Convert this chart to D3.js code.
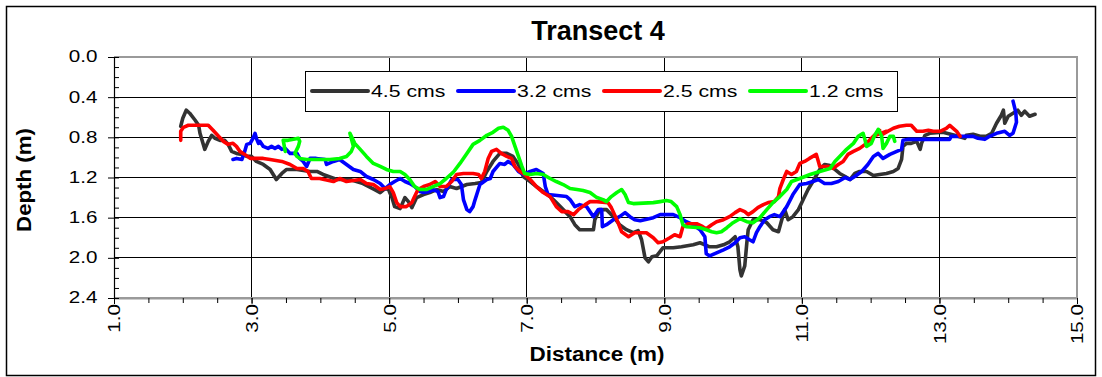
<!DOCTYPE html>
<html><head><meta charset="utf-8">
<script src="https://cdn.jsdelivr.net/npm/d3@7"></script>
<style>
html,body{margin:0;padding:0;background:#fff;}
svg{display:block;font-family:"Liberation Sans",Arial,sans-serif;}
</style></head>
<body><svg id="c" width="1102" height="377"></svg>
<script>
const title = "Transect 4";
const xLabel = "Distance (m)";
const yLabel = "Depth (m)";
const xTicks = [1, 3, 5, 7, 9, 11, 13, 15];
const yTicks = [0, 0.4, 0.8, 1.2, 1.6, 2.0, 2.4];
const seriesNames = ["4.5 cms", "3.2 cms", "2.5 cms", "1.2 cms"];
const seriesColors = ["#333333", "#0000ff", "#ff0000", "#00ff00"];

const s45 = [[1.97,0.69],[2.00,0.61],[2.05,0.53],[2.10,0.56],[2.18,0.63],[2.23,0.68],[2.25,0.76],[2.32,0.92],[2.37,0.84],[2.42,0.78],[2.47,0.81],[2.54,0.83],[2.61,0.83],[2.66,0.87],[2.71,0.94],[2.78,0.96],[2.86,0.97],[2.93,0.99],[3.00,0.99],[3.07,1.04],[3.17,1.07],[3.27,1.12],[3.36,1.22],[3.44,1.16],[3.51,1.12],[3.66,1.12],[3.85,1.14],[3.95,1.14],[4.04,1.17],[4.24,1.22],[4.43,1.22],[4.62,1.26],[4.79,1.32],[4.87,1.35],[4.94,1.31],[4.99,1.32],[5.04,1.40],[5.08,1.49],[5.16,1.51],[5.23,1.40],[5.28,1.44],[5.33,1.50],[5.40,1.40],[5.50,1.37],[5.59,1.35],[5.69,1.32],[5.79,1.34],[5.88,1.29],[5.98,1.31],[6.13,1.27],[6.25,1.26],[6.34,1.25],[6.42,1.14],[6.51,1.04],[6.61,0.96],[6.71,0.96],[6.80,0.99],[6.88,1.07],[6.95,1.19],[7.05,1.24],[7.14,1.29],[7.24,1.34],[7.34,1.39],[7.43,1.45],[7.53,1.52],[7.63,1.59],[7.70,1.67],[7.77,1.72],[7.97,1.72],[7.99,1.62],[8.06,1.52],[8.16,1.52],[8.26,1.59],[8.35,1.67],[8.45,1.72],[8.55,1.75],[8.62,1.73],[8.67,1.82],[8.72,2.00],[8.77,2.04],[8.82,1.99],[8.89,1.98],[8.98,1.90],[9.13,1.90],[9.25,1.89],[9.42,1.87],[9.52,1.85],[9.66,1.89],[9.76,1.89],[9.86,1.87],[9.95,1.84],[10.03,1.79],[10.07,1.89],[10.10,2.12],[10.12,2.18],[10.17,2.08],[10.20,1.85],[10.22,1.72],[10.29,1.62],[10.39,1.62],[10.49,1.65],[10.58,1.72],[10.66,1.74],[10.70,1.64],[10.75,1.52],[10.80,1.62],[10.87,1.59],[10.95,1.52],[11.02,1.42],[11.09,1.32],[11.16,1.24],[11.26,1.12],[11.33,1.07],[11.41,1.08],[11.48,1.12],[11.55,1.16],[11.63,1.19],[11.70,1.22],[11.77,1.16],[11.84,1.14],[11.94,1.14],[12.04,1.18],[12.13,1.17],[12.23,1.16],[12.33,1.14],[12.40,1.11],[12.45,1.02],[12.47,0.89],[12.52,0.86],[12.59,0.86],[12.67,0.84],[12.72,0.92],[12.74,0.86],[12.79,0.78],[12.86,0.76],[13.05,0.75],[13.22,0.78],[13.37,0.81],[13.39,0.78],[13.49,0.77],[13.59,0.79],[13.68,0.79],[13.76,0.76],[13.83,0.66],[13.90,0.58],[13.93,0.53],[13.95,0.66],[14.00,0.59],[14.07,0.56],[14.14,0.53],[14.19,0.58],[14.24,0.54],[14.31,0.59],[14.39,0.57]];

const s32 = [[2.73,1.02],[2.78,1.01],[2.86,1.02],[2.90,0.94],[2.93,0.87],[2.98,0.86],[3.02,0.81],[3.05,0.76],[3.07,0.81],[3.10,0.86],[3.12,0.84],[3.17,0.89],[3.24,0.91],[3.29,0.89],[3.34,0.91],[3.39,0.89],[3.44,0.92],[3.49,0.91],[3.56,0.96],[3.66,0.96],[3.70,1.01],[3.75,1.04],[3.80,1.09],[3.85,1.01],[3.94,1.01],[4.07,1.02],[4.09,1.07],[4.19,1.04],[4.28,1.02],[4.38,1.07],[4.48,1.12],[4.58,1.14],[4.67,1.19],[4.77,1.22],[4.87,1.26],[4.94,1.31],[5.01,1.27],[5.08,1.24],[5.16,1.21],[5.23,1.24],[5.30,1.26],[5.37,1.29],[5.45,1.34],[5.50,1.35],[5.59,1.34],[5.64,1.32],[5.71,1.34],[5.74,1.40],[5.79,1.39],[5.83,1.32],[5.91,1.22],[6.00,1.22],[6.05,1.27],[6.08,1.42],[6.13,1.52],[6.17,1.54],[6.22,1.49],[6.25,1.42],[6.32,1.27],[6.42,1.22],[6.47,1.21],[6.51,1.14],[6.61,1.06],[6.68,1.07],[6.73,1.04],[6.80,1.07],[6.88,1.14],[6.95,1.17],[7.05,1.14],[7.14,1.12],[7.24,1.16],[7.27,1.29],[7.31,1.37],[7.58,1.39],[7.63,1.42],[7.70,1.49],[7.77,1.47],[7.87,1.49],[7.97,1.59],[8.04,1.52],[8.09,1.52],[8.10,1.69],[8.16,1.67],[8.26,1.62],[8.35,1.59],[8.43,1.55],[8.50,1.59],[8.57,1.62],[8.65,1.63],[8.84,1.60],[8.94,1.57],[9.13,1.57],[9.23,1.60],[9.32,1.64],[9.42,1.67],[9.52,1.72],[9.59,1.79],[9.61,1.96],[9.66,1.98],[9.76,1.95],[9.86,1.92],[9.95,1.89],[10.03,1.85],[10.10,1.80],[10.17,1.79],[10.24,1.82],[10.29,1.84],[10.34,1.75],[10.39,1.69],[10.46,1.62],[10.53,1.59],[10.60,1.57],[10.68,1.59],[10.78,1.49],[10.87,1.37],[10.97,1.27],[11.07,1.26],[11.16,1.24],[11.24,1.22],[11.33,1.26],[11.43,1.26],[11.53,1.24],[11.63,1.20],[11.70,1.22],[11.77,1.19],[11.87,1.14],[11.96,1.07],[12.04,0.99],[12.11,0.96],[12.18,1.01],[12.28,0.97],[12.38,0.94],[12.45,0.92],[12.47,0.83],[12.55,0.82],[13.15,0.82],[13.17,0.79],[13.30,0.79],[13.49,0.79],[13.56,0.81],[13.66,0.82],[13.73,0.79],[13.83,0.76],[13.95,0.74],[14.02,0.78],[14.07,0.76],[14.12,0.65],[14.11,0.55],[14.07,0.44]];

const s25 = [[1.97,0.83],[1.97,0.74],[2.01,0.70],[2.08,0.68],[2.37,0.68],[2.44,0.73],[2.52,0.79],[2.59,0.84],[2.66,0.87],[2.73,0.86],[2.78,0.89],[2.83,0.94],[2.90,0.97],[2.98,1.01],[3.17,1.01],[3.27,1.02],[3.44,1.04],[3.56,1.07],[3.66,1.11],[3.75,1.11],[3.82,1.14],[3.87,1.21],[3.99,1.21],[4.19,1.24],[4.28,1.21],[4.38,1.24],[4.58,1.22],[4.67,1.26],[4.77,1.27],[4.87,1.32],[4.94,1.31],[5.01,1.29],[5.06,1.35],[5.11,1.45],[5.16,1.49],[5.25,1.49],[5.33,1.45],[5.37,1.39],[5.42,1.32],[5.50,1.29],[5.59,1.27],[5.67,1.24],[5.74,1.29],[5.83,1.29],[5.91,1.24],[5.98,1.17],[6.08,1.16],[6.22,1.16],[6.30,1.17],[6.34,1.21],[6.39,1.14],[6.44,1.01],[6.49,0.94],[6.56,0.92],[6.63,0.96],[6.71,0.99],[6.78,1.01],[6.83,1.09],[6.90,1.14],[6.97,1.17],[7.05,1.22],[7.14,1.29],[7.24,1.35],[7.34,1.39],[7.43,1.49],[7.51,1.54],[7.60,1.54],[7.68,1.57],[7.75,1.52],[7.85,1.47],[7.92,1.44],[8.02,1.44],[8.18,1.45],[8.23,1.50],[8.31,1.62],[8.38,1.74],[8.48,1.79],[8.57,1.75],[8.74,1.75],[8.84,1.80],[8.91,1.85],[8.98,1.84],[9.08,1.80],[9.15,1.77],[9.23,1.79],[9.27,1.69],[9.35,1.66],[9.47,1.66],[9.56,1.69],[9.61,1.71],[9.69,1.67],[9.76,1.64],[9.86,1.62],[9.95,1.59],[10.03,1.55],[10.10,1.52],[10.17,1.54],[10.22,1.57],[10.29,1.54],[10.36,1.50],[10.44,1.47],[10.51,1.45],[10.60,1.44],[10.66,1.39],[10.68,1.31],[10.73,1.22],[10.78,1.14],[10.85,1.17],[10.92,1.14],[10.97,1.06],[11.04,1.04],[11.11,1.01],[11.21,0.97],[11.24,1.04],[11.26,1.09],[11.38,1.09],[11.45,1.11],[11.53,1.07],[11.60,1.04],[11.67,0.97],[11.75,0.94],[11.84,0.91],[11.94,0.86],[12.04,0.79],[12.13,0.73],[12.07,0.78],[12.23,0.74],[12.17,0.77],[12.33,0.71],[12.42,0.69],[12.52,0.68],[12.59,0.68],[12.67,0.74],[12.76,0.74],[12.84,0.73],[12.91,0.74],[13.01,0.74],[13.10,0.71],[13.15,0.68],[13.20,0.71],[13.25,0.74],[13.30,0.79]];

const s12 = [[3.49,0.94],[3.46,0.83],[3.53,0.83],[3.61,0.82],[3.68,0.81],[3.70,0.84],[3.68,0.89],[3.63,0.96],[3.66,0.99],[3.70,1.01],[3.80,1.02],[4.04,1.02],[4.14,1.02],[4.28,1.01],[4.38,0.99],[4.45,0.94],[4.48,0.89],[4.43,0.76],[4.50,0.86],[4.58,0.92],[4.67,0.99],[4.77,1.06],[4.87,1.09],[4.96,1.12],[5.06,1.14],[5.16,1.14],[5.23,1.17],[5.30,1.22],[5.37,1.29],[5.45,1.32],[5.54,1.32],[5.64,1.29],[5.74,1.26],[5.83,1.21],[5.93,1.15],[6.03,1.06],[6.13,0.96],[6.22,0.87],[6.32,0.83],[6.42,0.78],[6.51,0.75],[6.59,0.71],[6.66,0.70],[6.73,0.73],[6.78,0.79],[6.83,0.89],[6.88,0.99],[6.93,1.09],[6.97,1.16],[7.05,1.17],[7.14,1.16],[7.24,1.17],[7.34,1.21],[7.43,1.24],[7.53,1.27],[7.63,1.31],[7.73,1.32],[7.82,1.33],[7.92,1.35],[8.02,1.40],[8.11,1.42],[8.16,1.44],[8.23,1.39],[8.31,1.35],[8.38,1.32],[8.43,1.37],[8.48,1.45],[8.55,1.46],[8.84,1.45],[8.94,1.44],[9.03,1.43],[9.10,1.44],[9.18,1.49],[9.23,1.57],[9.27,1.67],[9.32,1.69],[9.52,1.70],[9.61,1.72],[9.69,1.74],[9.76,1.75],[9.83,1.74],[9.91,1.70],[10.00,1.65],[10.10,1.61],[10.20,1.64],[10.29,1.65],[10.39,1.60],[10.49,1.52],[10.58,1.45],[10.68,1.39],[10.78,1.32],[10.85,1.24],[10.97,1.21],[11.12,1.17],[11.26,1.14],[11.41,1.11],[11.48,1.04],[11.55,0.99],[11.65,0.92],[11.75,0.86],[11.82,0.79],[11.89,0.76],[11.92,0.83],[11.94,0.89],[12.01,0.86],[12.06,0.78],[12.11,0.72],[12.16,0.79],[12.18,0.91],[12.23,0.86],[12.28,0.79],[12.33,0.79],[12.35,0.84]];

const seriesData = [s45, s32, s25, s12];

const svg = d3.select("#c");
const x = d3.scaleLinear().domain([1, 15]).range([114, 1077]);
const y = d3.scaleLinear().domain([0, 2.4]).range([57, 298]);
const SX = 1.25; // glyph stretch along baseline seen in the reference

// outer frame
svg.append("rect").attr("x", 6.5).attr("y", 6.5).attr("width", 1089).attr("height", 369)
  .attr("fill", "#fff").attr("stroke", "#000").attr("stroke-width", 1.5);

// gridlines
svg.append("g").selectAll("line").data(yTicks.filter(v => v > 0 && v < 2.4)).join("line")
  .attr("x1", x(1)).attr("x2", x(15)).attr("y1", d => y(d)).attr("y2", d => y(d))
  .attr("stroke", "#000").attr("stroke-width", 1).attr("shape-rendering", "crispEdges");
svg.append("g").selectAll("line").data(xTicks.filter(v => v > 1 && v < 15)).join("line")
  .attr("y1", y(0)).attr("y2", y(2.4)).attr("x1", d => x(d)).attr("x2", d => x(d))
  .attr("stroke", "#000").attr("stroke-width", 1).attr("shape-rendering", "crispEdges");

// plot border (top, right, bottom in grey)
svg.append("path")
  .attr("d", `M${x(1)},${y(0)}H${x(15)}V${y(2.4)}H${x(1)}`)
  .attr("fill", "none").attr("stroke", "#9a9a9a").attr("stroke-width", 2);

// axes
const fmt = d3.format(".1f");
const xAxis = svg.append("g").attr("transform", `translate(0,${y(2.4)})`)
  .call(d3.axisBottom(x).tickValues(xTicks).tickSize(6).tickSizeOuter(0).tickFormat(fmt));
const xMinor = svg.append("g").attr("transform", `translate(0,${y(2.4)})`)
  .call(d3.axisBottom(x).tickValues(d3.range(1, 15.01, 0.5)).tickSize(5).tickSizeOuter(0).tickFormat(""));
xMinor.select(".domain").remove();
xAxis.select(".domain").attr("stroke", "#9a9a9a").attr("stroke-width", 2);
xAxis.selectAll(".tick text")
  .attr("font-size", 16.5).attr("fill", "#000").attr("text-anchor", "end")
  .attr("transform", `translate(0,${313 - y(2.4) - 9}) rotate(-90) scale(${SX},1)`)
  .attr("x", 0).attr("y", 0).attr("dy", "0.36em");

const yAxis = svg.append("g").attr("transform", `translate(${x(1)},0)`)
  .call(d3.axisLeft(y).tickValues(yTicks).tickSize(6).tickSizeOuter(0).tickFormat(fmt));
yAxis.select(".domain").attr("stroke", "#000").attr("stroke-width", 1.2);
yAxis.selectAll(".tick text")
  .attr("font-size", 16.5).attr("fill", "#000").attr("text-anchor", "end")
  .attr("x", 0)
  .attr("transform", `translate(-16.5,0) scale(${SX},1)`)
  .attr("dy", "0.3em");
const yMinor = svg.append("g").attr("transform", `translate(${x(1)},0)`)
  .call(d3.axisRight(y).tickValues(d3.range(0, 2.401, 0.1)).tickSize(5).tickSizeOuter(0).tickFormat(""));
yMinor.select(".domain").remove();
svg.selectAll(".tick line").attr("stroke", "#000");

// series
const line = d3.line().x(d => x(d[0])).y(d => y(d[1]));
svg.append("g").selectAll("path").data(seriesData).join("path")
  .attr("d", line).attr("fill", "none")
  .attr("stroke", (d, i) => seriesColors[i]).attr("stroke-width", 3.6)
  .attr("stroke-linejoin", "round").attr("stroke-linecap", "round");

// legend
const lg = svg.append("g");
lg.append("rect").attr("x", 305.5).attr("y", 71.5).attr("width", 592).attr("height", 40)
  .attr("fill", "#fff").attr("stroke", "#000").attr("stroke-width", 1);
const legX = [312, 458, 604, 750];
seriesNames.forEach((n, i) => {
  lg.append("line").attr("x1", legX[i]).attr("x2", legX[i] + 56).attr("y1", 91).attr("y2", 91)
    .attr("stroke", seriesColors[i]).attr("stroke-width", 4).attr("stroke-linecap", "round");
  lg.append("text").attr("transform", `translate(${legX[i] + 59},97) scale(${SX},1)`)
    .attr("font-size", 17).attr("fill", "#000").text(n);
});

// titles
svg.append("text").attr("transform", `translate(598,40)`)
  .attr("text-anchor", "middle").attr("font-size", 27).attr("font-weight", "bold").text(title);
svg.append("text").attr("transform", `translate(597,361) scale(1.07,1)`)
  .attr("text-anchor", "middle").attr("font-size", 21).attr("font-weight", "bold").text(xLabel);
svg.append("text").attr("transform", `translate(31,180) rotate(-90) scale(1.06,1)`)
  .attr("text-anchor", "middle").attr("font-size", 21).attr("font-weight", "bold").text(yLabel);
</script></body></html>
